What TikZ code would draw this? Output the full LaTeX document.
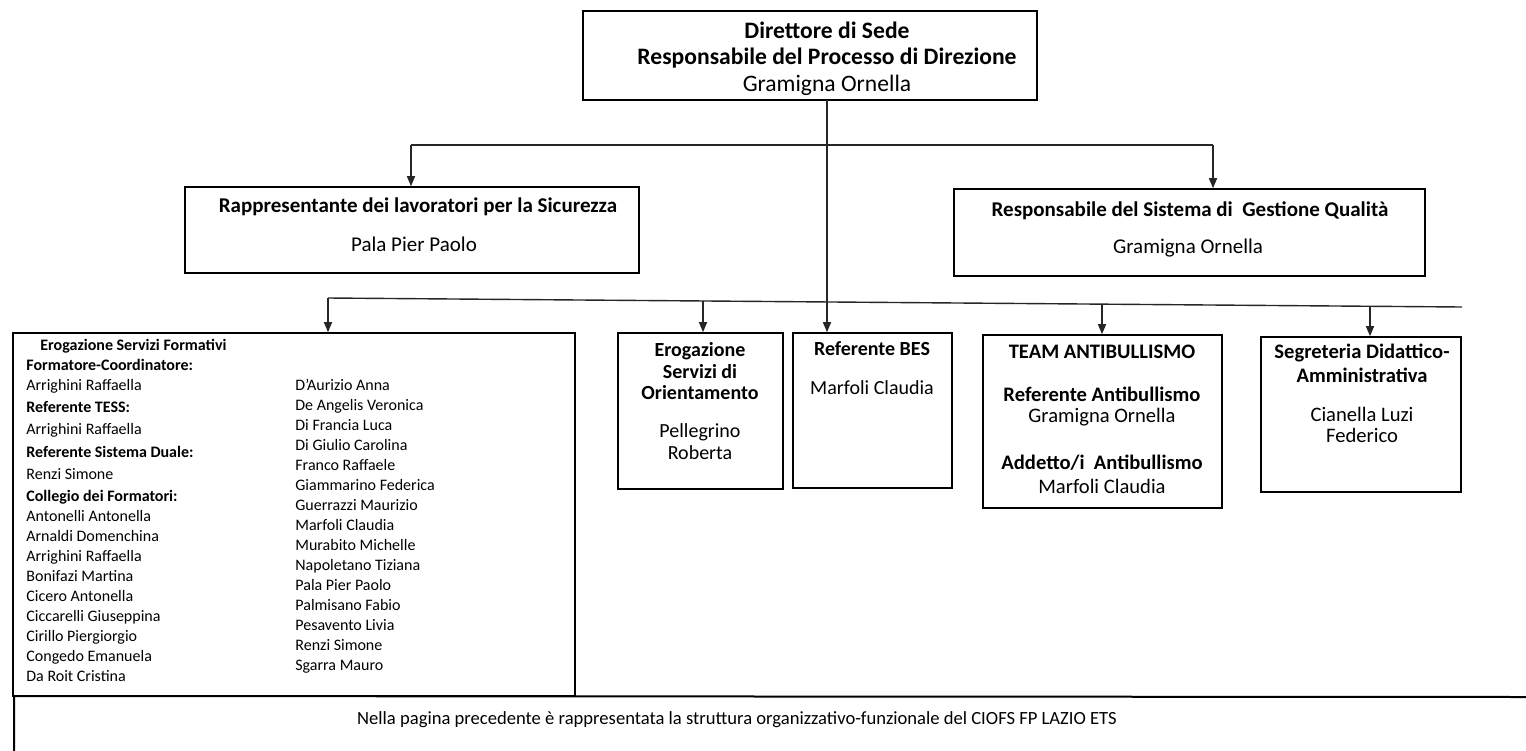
\documentclass[tikz,border=0pt]{standalone}
\usepackage{fontspec}
\setmainfont{Carlito}
\usetikzlibrary{arrows.meta,fit}
\begin{document}
\begin{tikzpicture}[x=0.5pt,y=-0.5pt,
  box/.style={draw, line width=0.8pt, inner sep=0pt},
  conn/.style={line width=0.7pt, draw=black!85},
  arr/.style={conn, -{Triangle[length=5pt,width=4pt]}},
  tt/.style={inner sep=0pt, font=\fontsize{11.8}{14}\selectfont},
  ttb/.style={inner sep=0pt, font=\bfseries\fontsize{11.8}{14}\selectfont},
  tr/.style={inner sep=0pt, font=\fontsize{10.5}{12}\selectfont},
  trb/.style={inner sep=0pt, font=\bfseries\fontsize{10.5}{12}\selectfont},
  tb/.style={inner sep=0pt, font=\fontsize{10}{12}\selectfont},
  tbb/.style={inner sep=0pt, font=\bfseries\fontsize{10}{12}\selectfont},
  tc/.style={inner sep=0pt, font=\fontsize{10.3}{12}\selectfont},
  tcb/.style={inner sep=0pt, font=\bfseries\fontsize{10.3}{12}\selectfont},
  tl/.style={inner sep=0pt, anchor=mid west, font=\fontsize{8}{10}\selectfont},
  tf/.style={inner sep=0pt, font=\fontsize{9.3}{11}\selectfont}
]
\useasboundingbox (0,0) rectangle (1526,750);
% boxes
\node[box, fit={(583,11) (1037,100)}] (dir) {};
\node[box, fit={(185,187) (639,273)}] (rls) {};
\node[box, fit={(954,189) (1425,276)}] (rsgq) {};
\node[box, fit={(13,333) (575,696)}] (esf) {};
\node[box, fit={(618,333) (783,489)}] (eso) {};
\node[box, fit={(793,333) (952,488)}] (bes) {};
\node[box, fit={(983,335) (1222,508)}] (team) {};
\node[box, fit={(1261,337) (1461,492)}] (segr) {};
% footer frame
\coordinate (fl) at (14,752);
\coordinate (ft) at (14,696);
\coordinate (fr) at (1526,697);
\draw[line width=1pt] (fr) -- (ft) -- (fl);
% connectors
\coordinate (d0) at (827,100);
\coordinate (h1l) at (411,145);
\coordinate (h1r) at (1213,145);
\coordinate (h2l) at (328,298);
\coordinate (h2r) at (1462,307);
\coordinate (a2) at (703,301);
\coordinate (a4) at (1102,304.1);
\coordinate (a5) at (1370,306.3);
\draw[arr] (d0) -- (d0 |- bes.north);
\draw[conn] (h1l) -- (h1r);
\draw[arr] (h1l) -- (h1l |- rls.north);
\draw[arr] (h1r) -- (h1r |- rsgq.north);
\draw[conn] (h2l) -- (h2r);
\draw[arr] (h2l) -- (h2l |- esf.north);
\draw[arr] (a2) -- (a2 |- eso.north);
\draw[arr] (a4) -- (a4 |- team.north);
\draw[arr] (a5) -- (a5 |- segr.north);
% top box text
\node[ttb] (d1) at (827,30) {Direttore di Sede};
\node[ttb] (d2) at (827,58) {Responsabile del Processo di Direzione};
\node[tt] (d3) at (827,85) {Gramigna Ornella};
% row 1 text
\node[trb] (r1) at (418,207) {Rappresentante dei lavoratori per la Sicurezza};
\node[tr] (r2) at (414,244) {Pala Pier Paolo};
\node[trb] (q1) at (1190,211) {Responsabile del Sistema di\ \ Gestione Qualità};
\node[tr] (q2) at (1188,248) {Gramigna Ornella};
% row 2 text
\node[tbb] (o1) at (700,351) {Erogazione};
\node[tbb] (o2) at (700,372) {Servizi di};
\node[tbb] (o3) at (700,393) {Orientamento};
\node[tb] (o4) at (700,432) {Pellegrino};
\node[tb] (o5) at (700,453) {Roberta};
\node[tbb] (b1) at (872,349) {Referente BES};
\node[tb] (b2) at (872,388) {Marfoli Claudia};
\node[tcb] (t1) at (1102,352) {TEAM ANTIBULLISMO};
\node[tcb] (t2) at (1102,394) {Referente Antibullismo};
\node[tc] (t3) at (1102,417) {Gramigna Ornella};
\node[tcb] (t4) at (1102,463) {Addetto/i\ \ Antibullismo};
\node[tc] (t5) at (1102,486) {Marfoli Claudia};
\node[tcb] (s1) at (1362,353) {Segreteria Didattico-};
\node[tcb] (s2) at (1362,375) {Amministrativa};
\node[tc] (s3) at (1362,414) {Cianella Luzi};
\node[tc] (s4) at (1362,435) {Federico};
% left box text
\node[tl, font=\bfseries\fontsize{8}{10}\selectfont] (e0) at (40,346) {Erogazione Servizi Formativi};
\foreach \y/\txt/\f [count=\i] in {
  366/Formatore-Coordinatore:/\bfseries,
  386/Arrighini Raffaella/,
  408/Referente TESS:/\bfseries,
  430/Arrighini Raffaella/,
  453/Referente Sistema Duale:/\bfseries,
  475/Renzi Simone/,
  497/Collegio dei Formatori:/\bfseries,
  517/Antonelli Antonella/,
  537/Arnaldi Domenchina/,
  557/Arrighini Raffaella/,
  577/Bonifazi Martina/,
  597/Cicero Antonella/,
  617/Ciccarelli Giuseppina/,
  637/Cirillo Piergiorgio/,
  657/Congedo Emanuela/,
  677/Da Roit Cristina/}
  \node[tl, font=\f\fontsize{8}{10}\selectfont] (c1-\i) at (26,\y) {\txt};
\foreach \y/\txt [count=\i] in {
  386/D’Aurizio Anna,
  406/De Angelis Veronica,
  426/Di Francia Luca,
  446/Di Giulio Carolina,
  466/Franco Raffaele,
  486/Giammarino Federica,
  506/Guerrazzi Maurizio,
  526/Marfoli Claudia,
  546/Murabito Michelle,
  566/Napoletano Tiziana,
  586/Pala Pier Paolo,
  606/Palmisano Fabio,
  626/Pesavento Livia,
  646/Renzi Simone,
  666/Sgarra Mauro}
  \node[tl] (c2-\i) at (295,\y) {\txt};
% footer text
\node[tf] (foot) at (737,720) {Nella pagina precedente è rappresentata la struttura organizzativo-funzionale del CIOFS FP LAZIO ETS};
\end{tikzpicture}
\end{document}
